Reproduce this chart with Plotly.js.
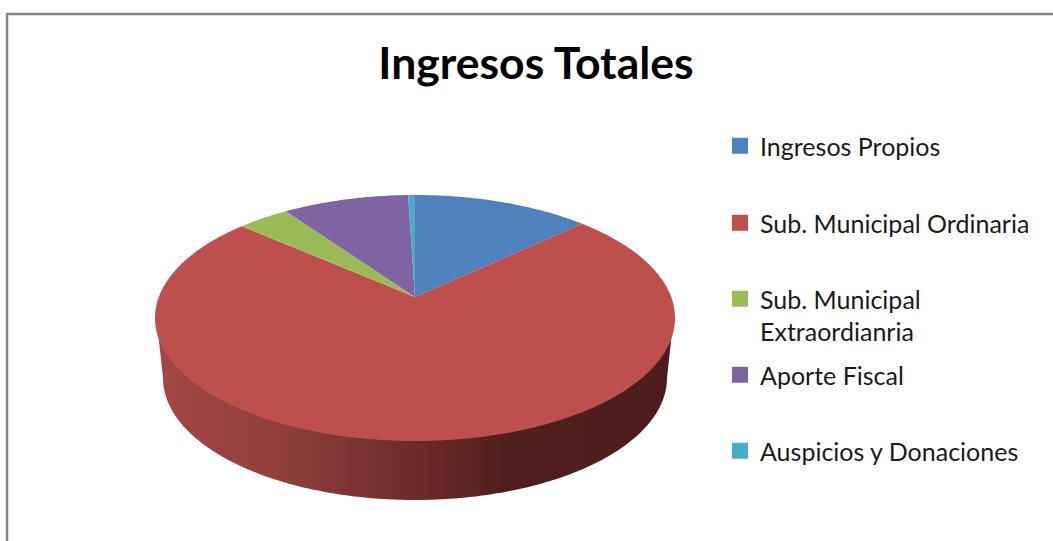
<!DOCTYPE html>
<html>
<head>
<meta charset="utf-8">
<script src="https://cdn.plot.ly/plotly-3.0.1.min.js"></script>
<style>html,body{margin:0;padding:0;background:#fff;overflow:hidden}</style>
</head>
<body>
<div id="chart" style="width:1053px;height:541px"></div>
<script>
const categories = ["Ingresos Propios", "Sub. Municipal Ordinaria", "Sub. Municipal<br>Extraordianria", "Aporte Fiscal", "Auspicios y Donaciones"];
const shares = [13.0, 73.45, 3.8, 9.25, 0.5];
const colors = ["#4f81bd", "#bd4f4c", "#9bbb59", "#8064a2", "#4bacc6"];
const legendCenterY = [147, 224, 300, 376, 452];

// Tilted pie: the unit circle is projected so that the centre sits above the rim's middle.
const W = 1053, H = 541, CX = 415, APEX_Y = 297, TILT = 0.1707, KX = 256.2, KY = 119.4;
function rim(deg) {
  const a = deg * Math.PI / 180, u = Math.sin(a), v = Math.cos(a), w = 1 / (1 + TILT * v);
  return [CX + KX * u * w, APEX_Y - KY * v * w];
}
const total = shares.reduce((s, v) => s + v, 0);
const traces = [];

// Side wall of the disc (only the big slice is seen from the front); its upper edge tucks under the top face
const wx = [], wy = [];
for (let t = 180; t <= 360; t += 1) {
  const a = t * Math.PI / 180;
  wx.push(415 + 258.5 * Math.cos(a)); wy.push(318 - 121 * Math.sin(a));
}
for (let t = 360; t >= 180; t -= 1) {
  const a = t * Math.PI / 180;
  wx.push(415 + 252 * Math.cos(a)); wy.push(378 - 122 * Math.sin(a));
}
traces.push({
  x: wx, y: wy, mode: "none", fill: "toself", showlegend: false, hoverinfo: "skip",
  fillcolor: "#4b1e1c",
  fillgradient: {
    type: "horizontal",
    colorscale: [[0, "#a34744"], [0.25, "#8f3e3a"], [0.5, "#6c2b29"], [0.68, "#4f1f1d"], [1, "#4b1e1c"]]
  }
});

// Top face slices
let start = 0;
shares.forEach((v, i) => {
  const end = start + v / total * 360;
  const xs = [CX], ys = [APEX_Y];
  for (let d = start; d < end; d += 0.5) { const p = rim(d); xs.push(p[0]); ys.push(p[1]); }
  const last = rim(end); xs.push(last[0], CX); ys.push(last[1], APEX_Y);
  traces.push({
    x: xs, y: ys, mode: "none", fill: "toself", fillcolor: colors[i], showlegend: false,
    name: categories[i].replace("<br>", " "), hoveron: "fills"
  });
  start = end;
});

// Legend entries, each in its own legend to keep the reference's uneven spacing
const legendLayout = {};
categories.forEach((name, i) => {
  const id = i === 0 ? "legend" : "legend" + (i + 1);
  traces.push({
    x: [null], y: [null], mode: "markers", name: name, legend: id,
    marker: { symbol: "square", size: 16, color: colors[i] }, showlegend: true, hoverinfo: "skip"
  });
  legendLayout[id] = {
    x: 720 / W, xanchor: "left", y: 1 - (legendCenterY[i] - 24) / H, yanchor: "top",
    bgcolor: "rgba(0,0,0,0)", borderwidth: 0, valign: "top",
    font: { family: "Lato, sans-serif", size: 25, color: "#1a1a1a" }
  };
});

const layout = Object.assign({
  width: W, height: H, margin: { l: 0, r: 0, t: 0, b: 0 },
  paper_bgcolor: "#fff", plot_bgcolor: "#fff",
  title: {
    text: "<b>Ingresos Totales</b>", x: 536 / W, xanchor: "center", y: 1 - 63 / H, yanchor: "middle",
    font: { family: "Lato, sans-serif", size: 44.5, color: "#000" }
  },
  xaxis: { range: [0, W], visible: false, fixedrange: true },
  yaxis: { range: [H, 0], visible: false, fixedrange: true },
  shapes: [
    { type: "line", xref: "paper", yref: "paper", x0: 7 / W, x1: 7 / W, y0: 0, y1: 1 - 14 / H, line: { color: "#868686", width: 2.5 } },
    { type: "line", xref: "paper", yref: "paper", x0: 6 / W, x1: 1, y0: 1 - 14 / H, y1: 1 - 14 / H, line: { color: "#868686", width: 2.5 } }
  ]
}, legendLayout);

Plotly.newPlot("chart", traces, layout, { displayModeBar: false, responsive: false });
</script>
</body>
</html>
